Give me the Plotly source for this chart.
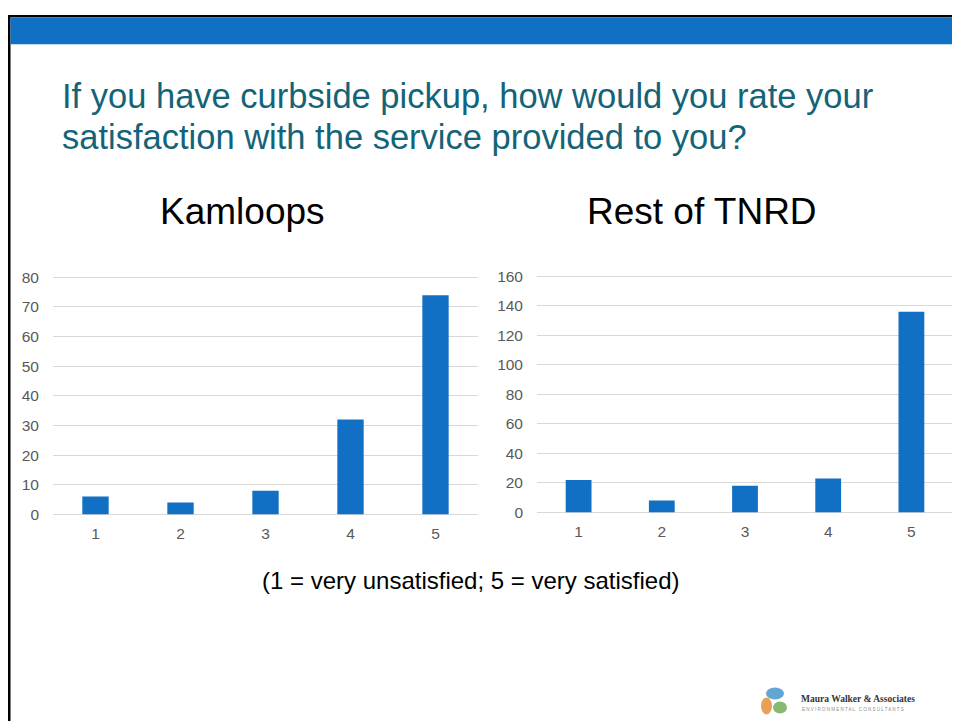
import plotly.graph_objects as go

# Data
ratings = ["1", "2", "3", "4", "5"]
kamloops_counts = [6, 4, 8, 32, 74]
tnrd_counts = [22, 8, 18, 23, 136]

# page offsets seen in the photographed page
X_OFF = 8
Y_OFF, Y_SCALE = 14.7, 0.979
W, H = 952, 721


def px(x):
    # screen pixel column -> paper x
    return min(1, max(0, (x - X_OFF) / W))


def py(y):
    # screen pixel row -> paper y
    return min(1, max(0, 1 - (y - Y_OFF) / Y_SCALE / H))


FONT = "Liberation Sans, Arial, sans-serif"
bar_color = "#1170C4"
tick_font = dict(family=FONT, size=15.5, color="#595959")

fig = go.Figure()

fig.add_trace(
    go.Bar(x=ratings, y=kamloops_counts, marker_color=bar_color,
           marker_line_width=0, xaxis="x", yaxis="y", showlegend=False)
)
fig.add_trace(
    go.Bar(x=ratings, y=tnrd_counts, marker_color=bar_color,
           marker_line_width=0, xaxis="x2", yaxis="y2", showlegend=False)
)

axis_common = dict(
    showgrid=True, gridcolor="#D9D9D9", gridwidth=1,
    zeroline=True, zerolinecolor="#D9D9D9", zerolinewidth=1,
    showline=False, ticks="", tickfont=tick_font, fixedrange=True,
    ticklabelstandoff=13,
)
xaxis_common = dict(type="category", showgrid=False, ticks="", tickfont=tick_font,
                    ticklabelstandoff=8, fixedrange=True)

# y ranges pushed slightly past the top tick so its gridline shows
k_top, t_top = 80.4, 160.8
fig.update_layout(
    width=W, height=H,
    margin=dict(l=0, r=0, t=0, b=0),
    paper_bgcolor="white", plot_bgcolor="white",
    bargap=0.69,
    font=dict(family=FONT),
    xaxis=dict(domain=[px(53), px(478)], anchor="y", **xaxis_common),
    yaxis=dict(domain=[py(514), py(514 - 237 * k_top / 80)], anchor="x",
               range=[0, k_top], dtick=10, **axis_common),
    xaxis2=dict(domain=[px(537), px(953)], anchor="y2", **xaxis_common),
    yaxis2=dict(domain=[py(512), py(512 - 236 * t_top / 160)], anchor="x2",
                range=[0, t_top], dtick=20, **axis_common),
)

# slide frame: black border and blue banner
fig.add_shape(type="rect", xref="paper", yref="paper",
              x0=0, x1=1, y0=py(17), y1=1,
              fillcolor="black", line_width=0, layer="above")
fig.add_shape(type="rect", xref="paper", yref="paper",
              x0=0, x1=px(10.5), y0=0, y1=1,
              fillcolor="black", line_width=0, layer="above")
fig.add_shape(type="rect", xref="paper", yref="paper",
              x0=px(10.5), x1=1, y0=py(44), y1=py(17),
              fillcolor="#1070C4", line_width=0, layer="above")

# Title, two lines
title_font = dict(family=FONT, size=34.5, color="#136478")
fig.add_annotation(xref="paper", yref="paper", x=px(60), y=py(96),
                   xanchor="left", yanchor="middle", showarrow=False,
                   text="If you have curbside pickup, how would you rate your",
                   font=title_font)
fig.add_annotation(xref="paper", yref="paper", x=px(60), y=py(137),
                   xanchor="left", yanchor="middle", showarrow=False,
                   text="satisfaction with the service provided to you?",
                   font=title_font)

# chart titles
sub_font = dict(family=FONT, size=37, color="black")
fig.add_annotation(xref="paper", yref="paper", x=px(242), y=py(211),
                   xanchor="center", yanchor="middle",
                   text="Kamloops", showarrow=False, font=sub_font)
fig.add_annotation(xref="paper", yref="paper", x=px(702), y=py(211),
                   xanchor="center", yanchor="middle",
                   text="Rest of TNRD", showarrow=False, font=sub_font)

# footnote
fig.add_annotation(xref="paper", yref="paper", x=px(471), y=py(580),
                   xanchor="center", yanchor="middle",
                   text="(1 = very unsatisfied; 5 = very satisfied)", showarrow=False,
                   font=dict(family=FONT, size=24, color="black"))

# logo
logo_bits = [
    (766, 687, 784, 699, "#3C8FC8"),
    (761, 697, 772, 714, "#E08A2A"),
    (773, 701, 787, 713, "#6AA84F"),
]
for x0, y0, x1, y1, col in logo_bits:
    fig.add_shape(type="circle", xref="paper", yref="paper",
                  x0=px(x0), x1=px(x1), y0=py(y1), y1=py(y0),
                  fillcolor=col, opacity=0.8, line_width=0)
fig.add_annotation(xref="paper", yref="paper", x=px(799), y=py(699),
                   xanchor="left", yanchor="middle",
                   text="<b>Maura Walker & Associates</b>", showarrow=False,
                   font=dict(family="Liberation Serif, serif", size=9.5, color="#333333"))
fig.add_annotation(xref="paper", yref="paper", x=px(800), y=py(709),
                   xanchor="left", yanchor="middle",
                   text="E N V I R O N M E N T A L   C O N S U L T A N T S", showarrow=False,
                   font=dict(family=FONT, size=4.5, color="#8A8A8A"))

fig.write_html("out.html")
